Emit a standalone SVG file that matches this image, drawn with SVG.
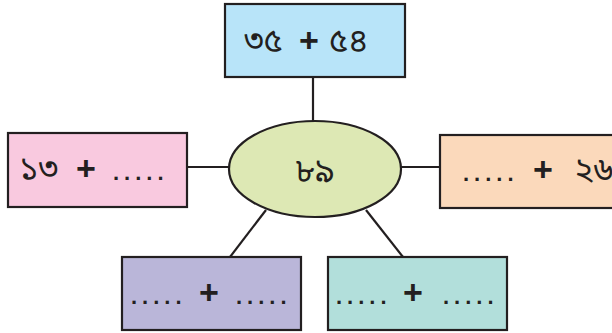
<svg xmlns="http://www.w3.org/2000/svg" width="612" height="333" viewBox="0 0 612 333">
<style>
.box{stroke:#231f20;stroke-width:2.2}
.ln{stroke:#231f20;stroke-width:2.2;fill:none}
.t{font-family:"Noto Sans Bengali","Noto Sans","DejaVu Sans",sans-serif;font-size:33px;fill:#231f20}
.p{font-family:"Liberation Sans",sans-serif;font-size:34px;font-weight:bold;fill:#231f20}
.d{font-family:"Liberation Sans",sans-serif;font-size:22px;font-weight:bold;fill:#231f20;letter-spacing:5px}
</style>
<rect width="612" height="333" fill="#ffffff"/>
<g id="connectors">
<line class="ln" x1="313" y1="78" x2="313" y2="121"/>
<line class="ln" x1="187" y1="167" x2="229" y2="167"/>
<line class="ln" x1="401" y1="167" x2="440" y2="167"/>
<line class="ln" x1="266" y1="210" x2="230" y2="257"/>
<line class="ln" x1="366" y1="210" x2="403" y2="257"/>
</g>
<g id="center">
<ellipse class="box" cx="315" cy="169" rx="86" ry="48" fill="#dde8b4"/>
<text class="t" x="315" y="182" text-anchor="middle">৮৯</text>
</g>
<g id="top">
<rect class="box" x="225" y="4" width="180" height="73" fill="#b8e4f9"/>
<text class="t" x="244" y="52">৩৫</text>
<text class="p" x="299" y="52">+</text>
<text class="t" x="329" y="52">৫৪</text>
</g>
<g id="left">
<rect class="box" x="8" y="133" width="179" height="74" fill="#f9c9df"/>
<text class="t" x="19" y="180">১৩</text>
<text class="p" x="76" y="180">+</text>
<text class="d" x="113" y="180">.....</text>
</g>
<g id="right">
<rect class="box" x="440" y="135" width="180" height="73" fill="#fbd9bb"/>
<text class="d" x="463" y="181">.....</text>
<text class="p" x="533" y="181">+</text>
<text class="t" x="574" y="181">২৬</text>
</g>
<g id="bottom-left">
<rect class="box" x="122" y="257" width="179" height="73" fill="#bab6d9"/>
<text class="d" x="131" y="304">.....</text>
<text class="p" x="199" y="304">+</text>
<text class="d" x="236" y="304">.....</text>
</g>
<g id="bottom-right">
<rect class="box" x="328" y="257" width="179" height="73" fill="#b2dfdb"/>
<text class="d" x="336" y="304">.....</text>
<text class="p" x="403" y="304">+</text>
<text class="d" x="443" y="304">.....</text>
</g>
</svg>
